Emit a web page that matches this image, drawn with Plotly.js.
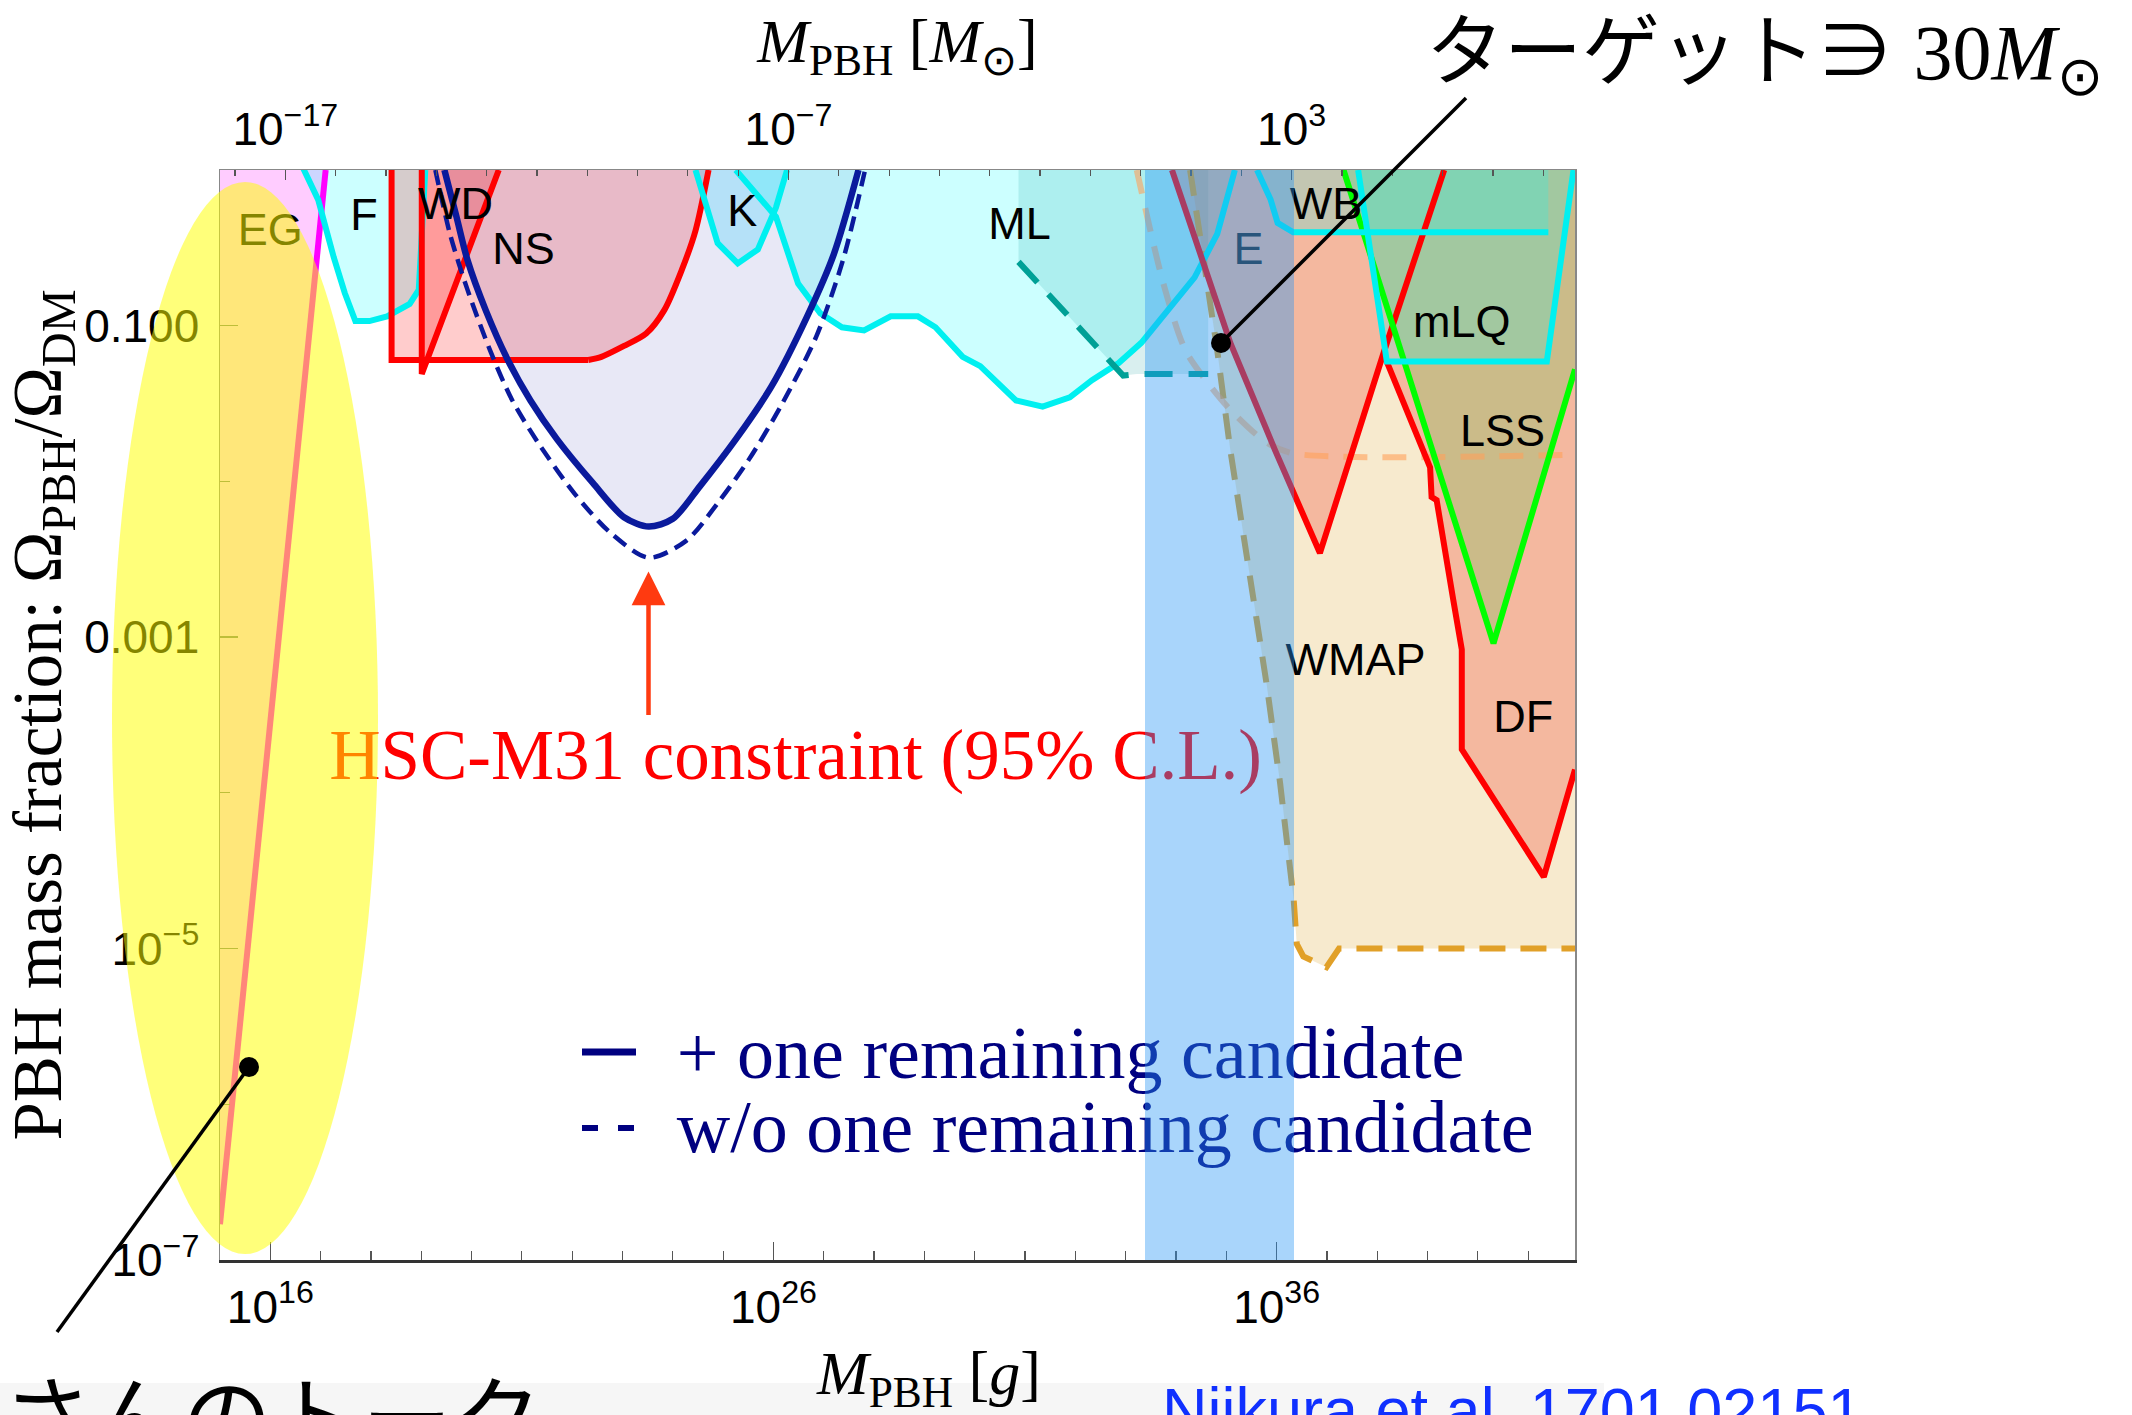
<!DOCTYPE html>
<html><head><meta charset="utf-8">
<script src="https://cdn.plot.ly/plotly-3.0.1.min.js"></script>
<style>html,body{margin:0;padding:0;background:#fff}#chart{width:2132px;height:1415px}</style>
</head><body><div id="chart"></div>
<script>
// ---- Data: constraint boundaries, log10(M_PBH/g) and log10(Omega_PBH/Omega_DM) ----
const EG_logM = [17.10, 15.00];
const EG_logF = [0.00, -6.77];
const F_logM = [16.64, 16.95, 17.26, 17.48, 17.69, 17.97, 18.32, 18.77, 18.95, 19.02, 19.08];
const F_logF = [0.02, -0.19, -0.56, -0.79, -0.97, -0.97, -0.94, -0.86, -0.77, -0.40, 0.00];
const NS_logM = [18.41, 18.41, 22.32, 22.58, 23.03, 23.47, 23.83, 24.18, 24.45, 24.71];
const NS_logF = [0.00, -1.22, -1.22, -1.20, -1.13, -1.05, -0.90, -0.64, -0.39, 0.00];
const WD_logM = [19.01, 19.01, 20.54];
const WD_logF = [0.00, -1.31, 0.00];
const HSC_logM = [19.46, 19.70, 19.92, 20.28, 20.72, 21.17, 21.70, 22.41, 23.03, 23.52, 24.00, 24.54, 25.25, 25.96, 26.67, 27.20, 27.69];
const HSC_logF = [0.00, -0.30, -0.58, -0.90, -1.22, -1.48, -1.73, -2.01, -2.23, -2.29, -2.24, -2.03, -1.73, -1.39, -0.94, -0.54, 0.00];
const HSCwo_logM = [19.28, 19.57, 19.92, 20.37, 20.81, 21.34, 22.05, 22.76, 23.52, 24.27, 24.89, 25.51, 26.14, 26.85, 27.38, 27.82];
const HSCwo_logF = [0.00, -0.41, -0.77, -1.16, -1.48, -1.76, -2.08, -2.33, -2.49, -2.38, -2.14, -1.86, -1.52, -1.07, -0.58, 0.00];
const K_logM = [24.45, 24.89, 25.29, 25.69, 26.05, 26.27];
const K_logF = [0.00, -0.47, -0.60, -0.51, -0.24, 0.00];
const ML_logM = [25.25, 26.05, 26.49, 26.93, 27.36, 27.80, 28.33, 28.87, 29.22, 29.76, 30.11, 30.47, 30.82, 31.35, 31.89, 32.33, 32.86, 33.31, 33.75, 34.37, 34.82, 35.17];
const ML_logF = [0.00, -0.30, -0.73, -0.92, -1.01, -1.03, -0.94, -0.94, -1.01, -1.20, -1.26, -1.37, -1.48, -1.52, -1.46, -1.35, -1.24, -1.11, -0.94, -0.69, -0.41, 0.00];
const MLb_logM = [30.87, 32.95, 33.22, 34.64];
const MLb_logF = [-0.59, -1.32, -1.31, -1.31];
const E_logM = [33.92, 35.08, 35.97, 36.86, 38.12, 39.33];
const E_logF = [0.00, -1.11, -1.80, -2.46, -1.18, 0.00];
const WB_logM = [35.61, 35.88, 36.02, 36.33, 41.40];
const WB_logF = [0.00, -0.19, -0.34, -0.40, -0.40];
const MLQ_logM = [37.62, 38.19, 41.37, 41.90];
const MLQ_logF = [0.00, -1.23, -1.23, 0.00];
const LSS_logM = [37.33, 40.31, 41.93];
const LSS_logF = [0.00, -3.04, -1.28];
const DF_logM = [38.15, 39.05, 39.08, 39.18, 39.51, 39.68, 39.68, 41.31, 41.93];
const DF_logF = [-1.20, -1.91, -2.10, -2.12, -2.76, -3.08, -3.72, -4.54, -3.85];
const WMAP_logM = [34.28, 34.82, 35.08, 35.54, 35.80, 36.07, 36.34, 36.40, 36.53, 36.99, 37.24, 41.93];
const WMAP_logF = [0.00, -1.16, -1.80, -2.76, -3.30, -3.94, -4.69, -4.97, -5.05, -5.12, -5.00, -5.00];
const FIR_logM = [33.22, 33.75, 34.19, 34.64, 35.08, 35.80, 36.33, 41.78];
const FIR_logF = [0.00, -0.73, -1.16, -1.37, -1.54, -1.75, -1.82, -1.83];

const regionLabels = ['EG', 'F', 'WD', 'NS', 'K', 'ML', 'E', 'WB', 'mLQ', 'LSS', 'WMAP', 'DF'];
const legendNames = ['+ one remaining candidate', 'w/o one remaining candidate'];
const hscLabel = 'HSC-M31 constraint (95% C.L.)';

// axis tick labels
const xTickExp = [16, 26, 36];
const xTopTickExp = [-17, -7, 3];
const yTickExp = [-1, -3, -5, -7];
const yTickText = ['0.100', '0.001', '10<sup>−5</sup>', '10<sup>−7</sup>'];
const targetMsun = 30;

// ---- helpers ----
const LOG_MSUN = 33.2986;          // log10(solar mass in g)
const X_RANGE = [15, 41.93], Y_RANGE = [-7, 0];
const p10 = v => Math.pow(10, v);
const sup = e => '10<sup>' + (e < 0 ? '−' + (-e) : e) + '</sup>';
function decades(a, b) { const r = []; for (let e = a; e <= b; e++) r.push(p10(e)); return r; }

function fillTrace(mx, fy, color) {
  return {x: mx.map(p10), y: fy.map(p10), mode: 'lines', fill: 'toself', fillcolor: color,
          line: {width: 0}, hoverinfo: 'skip', showlegend: false};
}
function lineTrace(mx, fy, color, width, dash, shape, name) {
  return {x: mx.map(p10), y: fy.map(p10), mode: 'lines', name: name || '',
          line: {color: color, width: width, dash: dash || 'solid', shape: shape || 'linear', smoothing: 0.8},
          hoverinfo: 'skip', showlegend: false};
}
function textTrace(xe, ye, txt, font, pos) {
  return {x: [p10(xe)], y: [p10(ye)], mode: 'text', text: [txt], textposition: pos || 'middle center',
          textfont: font, cliponaxis: false, hoverinfo: 'skip', showlegend: false};
}

const RED_FILL = 'rgba(240,70,50,0.30)';
const CYAN_FILL = 'rgba(0,255,255,0.20)';
const CYAN = '#00F0F0', RED = '#FF0000', NAVY = '#0A1A9C';
const LW = 6;

const traces = [
  // fills
  fillTrace(EG_logM.concat([X_RANGE[0]]), EG_logF.concat([Y_RANGE[1]]), 'rgba(255,0,255,0.20)'),
  fillTrace(F_logM, F_logF, CYAN_FILL),
  fillTrace(NS_logM, NS_logF, 'rgba(255,0,0,0.20)'),
  fillTrace(WD_logM, WD_logF, 'rgba(255,0,0,0.24)'),
  fillTrace(HSC_logM, HSC_logF, 'rgba(30,30,170,0.10)'),
  fillTrace(K_logM, K_logF, 'rgba(0,200,255,0.22)'),
  fillTrace(ML_logM, ML_logF, CYAN_FILL),
  fillTrace([MLb_logM[0]].concat(MLb_logM, [MLb_logM[3]]), [Y_RANGE[1]].concat(MLb_logF, [Y_RANGE[1]]), 'rgba(0,150,150,0.15)'),
  fillTrace(WMAP_logM.concat([X_RANGE[1]]), WMAP_logF.concat([Y_RANGE[1]]), 'rgba(225,170,60,0.25)'),
  fillTrace(E_logM, E_logF, RED_FILL),
  fillTrace([E_logM[5]].concat(DF_logM, [X_RANGE[1]]), [E_logF[5]].concat(DF_logF, [Y_RANGE[1]]), RED_FILL),
  fillTrace(LSS_logM.concat([X_RANGE[1]]), LSS_logF.concat([Y_RANGE[1]]), 'rgba(60,200,60,0.22)'),
  fillTrace(WB_logM.concat([WB_logM[4]]), WB_logF.concat([Y_RANGE[1]]), CYAN_FILL),
  fillTrace(MLQ_logM, MLQ_logF, CYAN_FILL),
  // boundaries
  lineTrace(WMAP_logM, WMAP_logF, 'rgb(225,160,40)', LW, '26px,15px'),
  lineTrace(FIR_logM, FIR_logF, 'rgba(255,160,90,0.6)', LW, '24px,15px', 'spline'),
  lineTrace(EG_logM, EG_logF, '#FF00FF', LW),
  lineTrace(F_logM, F_logF, CYAN, LW),
  lineTrace(NS_logM.slice(0, 3), NS_logF.slice(0, 3), RED, LW),
  lineTrace(NS_logM.slice(2), NS_logF.slice(2), RED, LW, 'solid', 'spline'),
  lineTrace(WD_logM, WD_logF, RED, LW),
  lineTrace(K_logM, K_logF, CYAN, LW),
  lineTrace(ML_logM, ML_logF, CYAN, LW),
  lineTrace(MLb_logM, MLb_logF, 'rgb(0,160,150)', LW, '28px,16px'),
  lineTrace(E_logM, E_logF, RED, LW),
  lineTrace(DF_logM, DF_logF, RED, LW),
  lineTrace(LSS_logM, LSS_logF, '#00FF00', LW),
  lineTrace(WB_logM, WB_logF, CYAN, LW),
  lineTrace(MLQ_logM, MLQ_logF, CYAN, LW),
  lineTrace(HSCwo_logM, HSCwo_logF, NAVY, 4.5, '15px,8px', 'spline', legendNames[1]),
  lineTrace(HSC_logM, HSC_logF, NAVY, 6.5, 'solid', 'spline', legendNames[0]),
];

// region labels
const labelPos = [[16.0, -0.41], [17.86, -0.31], [19.68, -0.24], [21.03, -0.53], [25.38, -0.29], [30.89, -0.37],
                  [35.44, -0.53], [36.98, -0.24], [39.68, -1.00], [40.49, -1.70], [37.57, -3.17], [40.90, -3.54]];
const sansLab = {family: 'Liberation Sans, Arial, sans-serif', size: 45, color: '#000'};
regionLabels.forEach((t, i) => {
  const f = Object.assign({}, sansLab);
  if (t === 'E') f.color = '#2a2a2a';
  traces.push(textTrace(labelPos[i][0], labelPos[i][1], t, f));
});
const serif = 'Liberation Serif, Times New Roman, serif';
traces.push(textTrace(26.44, -3.80, hscLabel, {family: serif, size: 71, color: '#FF0000'}));
traces.push(textTrace(24.08, -5.71, legendNames[0], {family: serif, size: 74, color: '#000080'}, 'middle right'));
traces.push(textTrace(24.08, -6.19, legendNames[1], {family: serif, size: 74, color: '#000080'}, 'middle right'));
// top-axis anchor trace (solar-mass units)
traces.push({x: [targetMsun], y: [p10(-1.11)], xaxis: 'x2', yaxis: 'y', mode: 'markers',
             marker: {size: 1, opacity: 0}, hoverinfo: 'skip', showlegend: false});

// ---- layout geometry (pixels -> paper) ----
const PL = 220, PR = 1575, PT = 170, PB = 1260;
const px = X => (X - PL) / (PR - PL);
const py = Y => (PB - Y) / (PB - PT);

const tickFont = {family: 'Liberation Sans, Arial, sans-serif', size: 46, color: '#000'};
const titleFont = {family: serif, size: 62, color: '#000'};

const shapes = [
  {type: 'rect', xref: 'paper', yref: 'paper', x0: px(0), x1: px(1604), y0: py(1415), y1: py(1383),
   fillcolor: '#F6F6F6', line: {width: 0}, layer: 'below'},
  {type: 'rect', xref: 'paper', yref: 'paper', x0: px(1145), x1: px(1294), y0: 0, y1: 1,
   fillcolor: 'rgba(40,150,245,0.40)', line: {width: 0}, layer: 'above'},
  {type: 'circle', xref: 'paper', yref: 'paper', x0: px(112), x1: px(378), y0: py(1254), y1: py(182),
   fillcolor: 'rgba(255,255,0,0.52)', line: {width: 0}, layer: 'above'},
  {type: 'line', xref: 'paper', yref: 'paper', x0: px(1466), y0: py(98), x1: px(1221), y1: py(343),
   line: {color: '#000', width: 3.5}, layer: 'above'},
  {type: 'circle', xref: 'paper', yref: 'paper', xsizemode: 'pixel', ysizemode: 'pixel',
   xanchor: px(1221), yanchor: py(343), x0: -10, x1: 10, y0: -10, y1: 10,
   fillcolor: '#000', line: {width: 0}, layer: 'above'},
  {type: 'line', xref: 'paper', yref: 'paper', x0: px(249), y0: py(1067), x1: px(57), y1: py(1332),
   line: {color: '#000', width: 3.5}, layer: 'above'},
  {type: 'circle', xref: 'paper', yref: 'paper', xsizemode: 'pixel', ysizemode: 'pixel',
   xanchor: px(249), yanchor: py(1067), x0: -10, x1: 10, y0: -10, y1: 10,
   fillcolor: '#000', line: {width: 0}, layer: 'above'},
  // legend samples
  {type: 'line', xref: 'paper', yref: 'paper', x0: px(582), x1: px(636), y0: py(1052), y1: py(1052),
   line: {color: '#000080', width: 7}, layer: 'above'},
  {type: 'line', xref: 'paper', yref: 'paper', x0: px(582), x1: px(634), y0: py(1128), y1: py(1128),
   line: {color: '#000080', width: 6, dash: '16px,20px'}, layer: 'above'},
];

const annotations = [
  {xref: 'paper', yref: 'paper', x: px(648.5), y: py(571.5), ax: 0, ay: 145, text: '', showarrow: true,
   arrowhead: 2, arrowsize: 1.5, arrowwidth: 4.5, arrowcolor: '#FF3A10', standoff: 0, startstandoff: 0},
  {xref: 'paper', yref: 'paper', x: px(928), y: py(1377), xanchor: 'center', yanchor: 'middle', showarrow: false,
   text: '<i>M</i><sub>PBH</sub> [<i>g</i>]', font: titleFont},
  {xref: 'paper', yref: 'paper', x: px(1764), y: py(48), xanchor: 'center', yanchor: 'middle', showarrow: false,
   text: '<span style="font-family:Noto Sans CJK JP">ターゲット∋</span> 30<i>M</i><sub>⊙</sub>',
   font: {family: serif, size: 78, color: '#000'}},
  {xref: 'paper', yref: 'paper', x: px(544), y: py(1412), xanchor: 'right', yanchor: 'middle', showarrow: false,
   text: 'さんのトーク', font: {family: 'Noto Sans CJK JP', size: 90, color: '#000'}},
  {xref: 'paper', yref: 'paper', x: px(1160), y: py(1410), xanchor: 'left', yanchor: 'middle', showarrow: false,
   text: 'Niikura et al. 1701.02151', font: {family: 'Liberation Sans, Arial, sans-serif', size: 63, color: '#1030FF'}},
];

const layout = {
  width: 2132, height: 1415,
  margin: {l: PL, r: 2132 - PR, t: PT, b: 1415 - PB, pad: 0},
  paper_bgcolor: '#fff', plot_bgcolor: '#fff', showlegend: false,
  xaxis: {type: 'log', range: X_RANGE, autorange: false, showgrid: false, zeroline: false,
          tickmode: 'array', tickvals: xTickExp.map(p10), ticktext: xTickExp.map(sup),
          ticks: 'inside', ticklen: 18, tickwidth: 1.5, tickcolor: '#555', tickfont: tickFont,
          ticklabelstandoff: 5,
          minor: {tickmode: 'array', tickvals: decades(15, 41), ticks: 'inside', ticklen: 9, tickwidth: 1.2, tickcolor: '#555'},
          showline: true, linecolor: '#333', linewidth: 2.5, mirror: false},
  xaxis2: {type: 'log', overlaying: 'x', side: 'top', anchor: 'y',
           range: [X_RANGE[0] - LOG_MSUN, X_RANGE[1] - LOG_MSUN], autorange: false, showgrid: false, zeroline: false,
           tickmode: 'array', tickvals: xTopTickExp.map(p10), ticktext: xTopTickExp.map(sup),
           ticks: 'inside', ticklen: 10, tickwidth: 1.5, tickcolor: '#555', tickfont: tickFont,
           ticklabelstandoff: 5,
           minor: {tickmode: 'array', tickvals: decades(-18, 8), ticks: 'inside', ticklen: 6, tickwidth: 1.2, tickcolor: '#555'},
           showline: true, linecolor: '#888', linewidth: 1.5,
           title: {text: '<i>M</i><sub>PBH</sub> [<i>M</i><sub>⊙</sub>]', font: titleFont, standoff: 14}},
  yaxis: {type: 'log', range: Y_RANGE, autorange: false, showgrid: false, zeroline: false,
          tickmode: 'array', tickvals: yTickExp.map(p10), ticktext: yTickText,
          ticks: 'inside', ticklen: 18, tickwidth: 1.5, tickcolor: '#777', tickfont: tickFont,
          ticklabelstandoff: 10,
          minor: {tickmode: 'array', tickvals: decades(-7, 0), ticks: 'inside', ticklen: 10, tickwidth: 1.2, tickcolor: '#777'},
          showline: true, linecolor: '#888', linewidth: 1.5, mirror: true,
          title: {text: 'PBH mass fraction: Ω<sub>PBH</sub>/Ω<sub>DM</sub>', font: {family: serif, size: 69, color: '#000'}, standoff: 4}},
  shapes: shapes,
  annotations: annotations,
};

Plotly.newPlot('chart', traces, layout, {staticPlot: true, displayModeBar: false});
</script>
</body></html>
